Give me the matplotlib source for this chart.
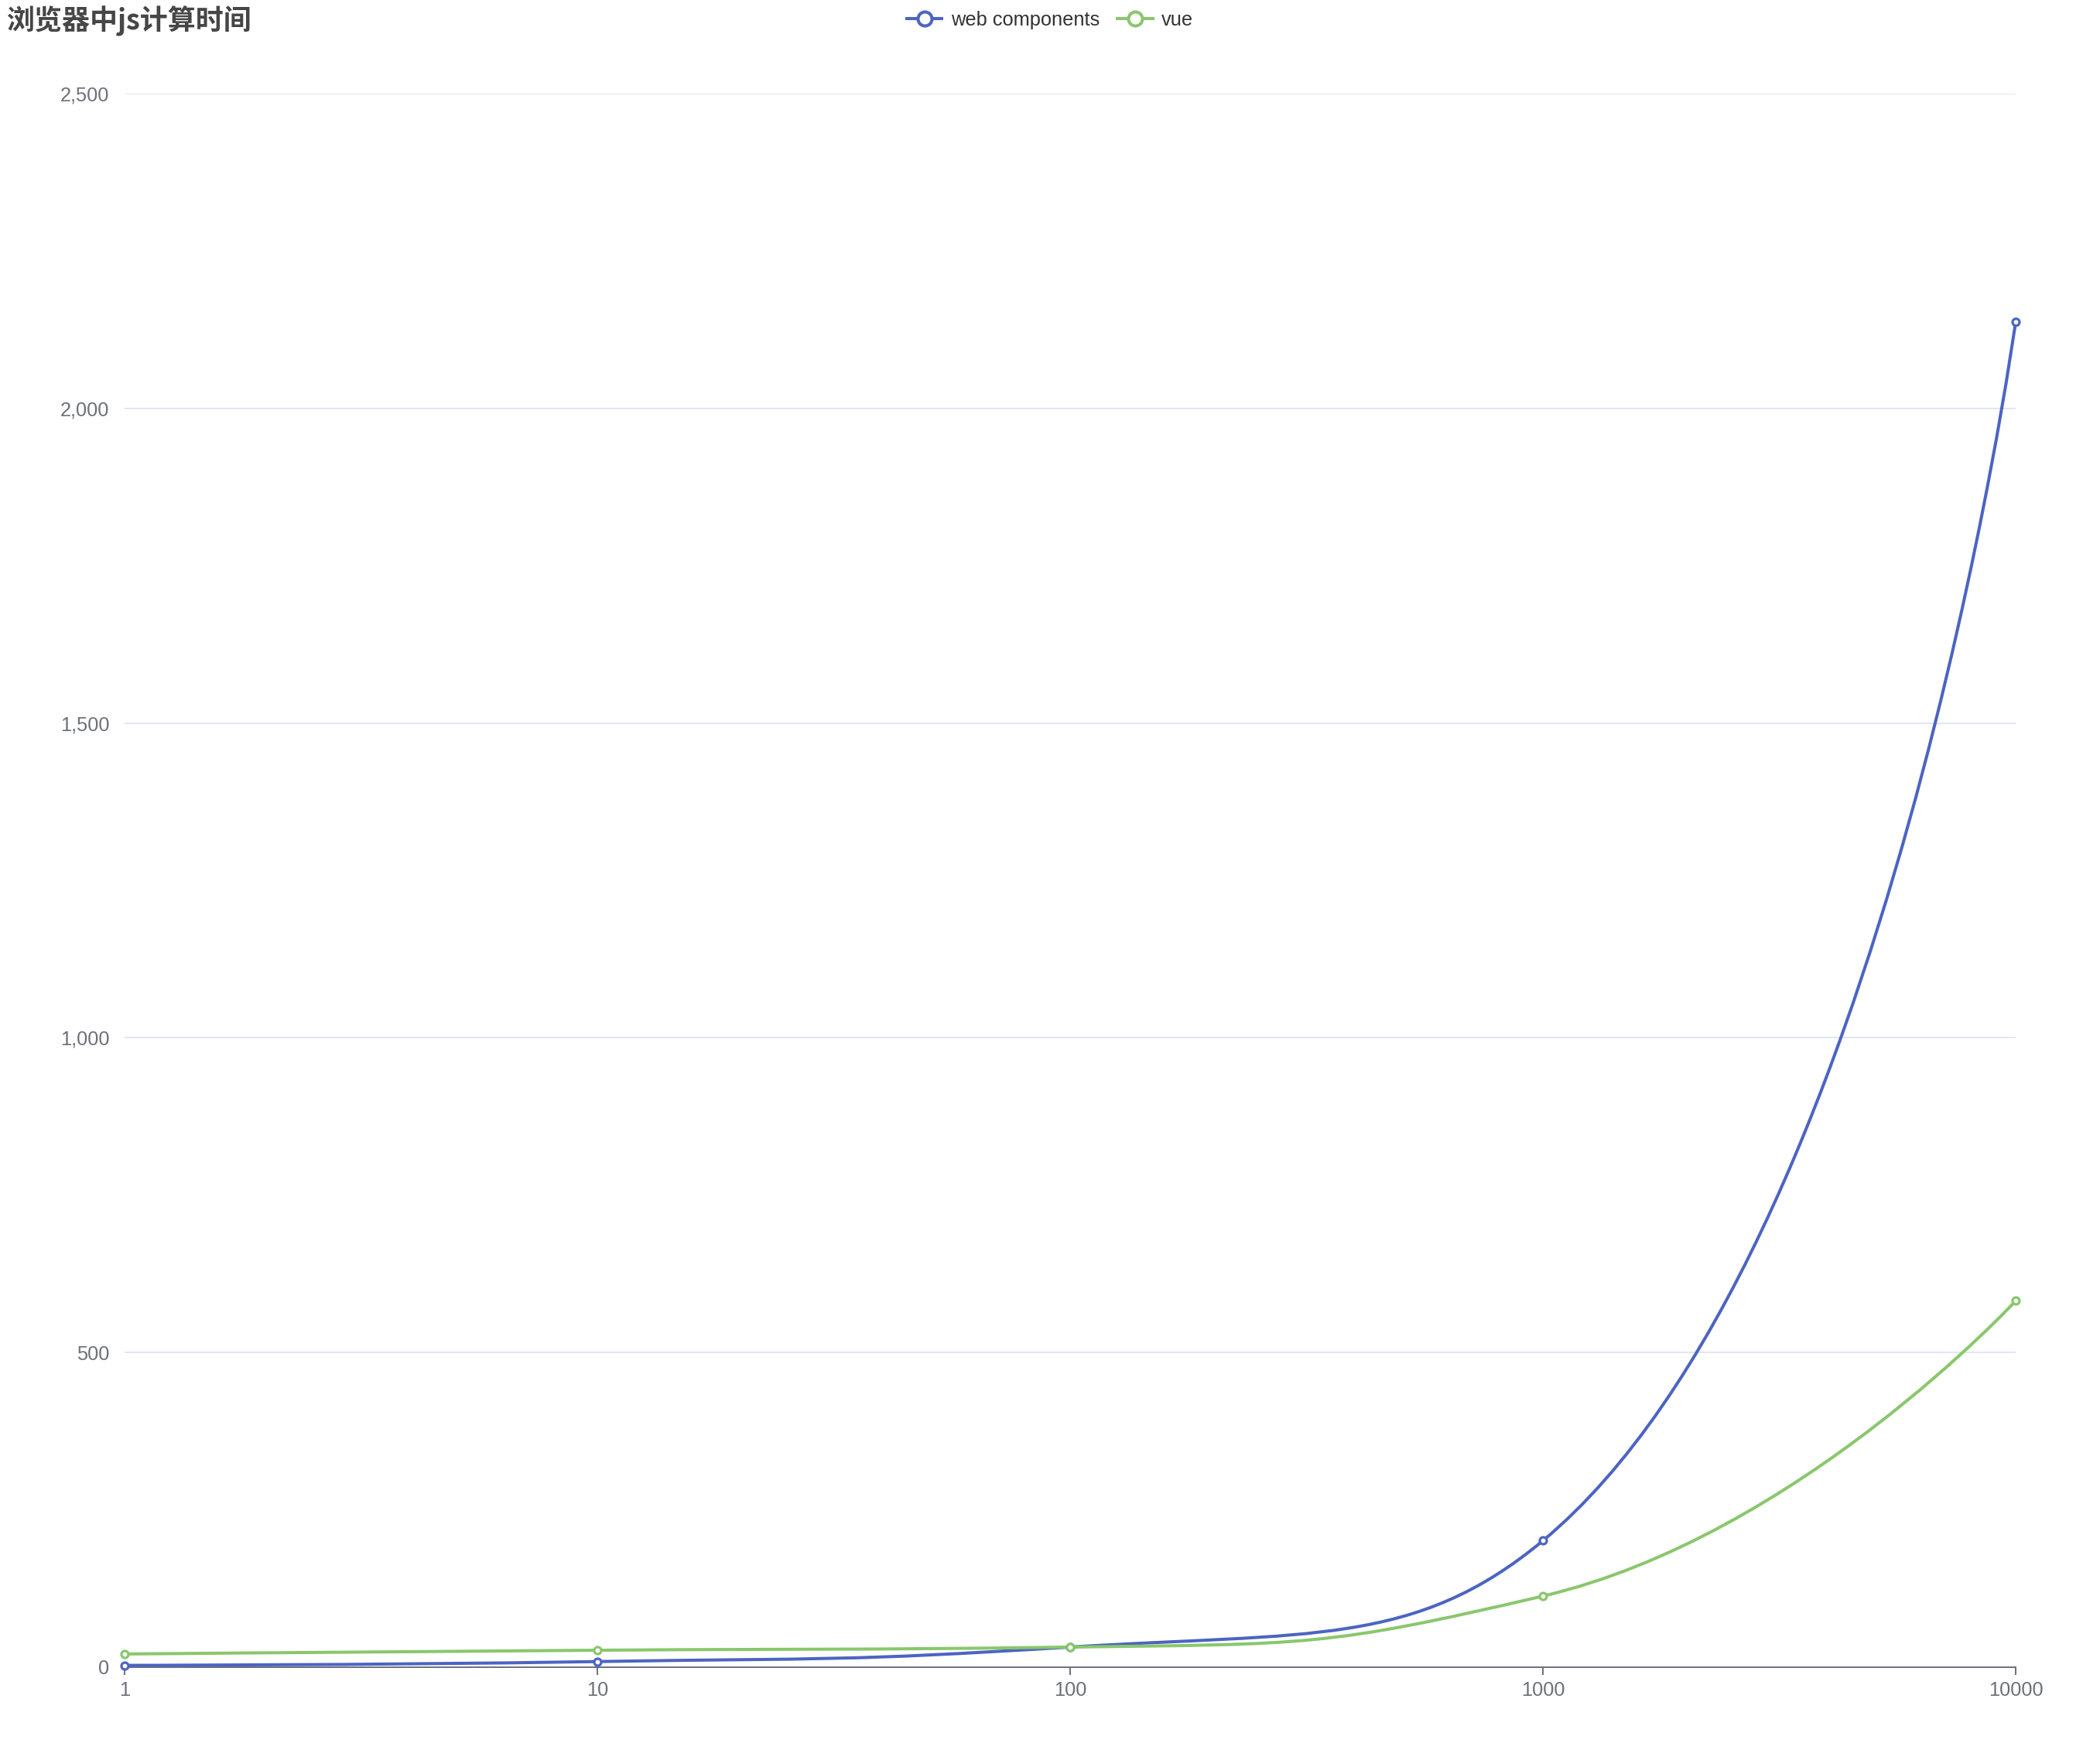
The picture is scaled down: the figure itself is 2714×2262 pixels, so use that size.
import matplotlib
matplotlib.use("Agg")
import matplotlib.pyplot as plt
import numpy as np
from matplotlib.path import Path
from matplotlib.patches import PathPatch
from matplotlib.lines import Line2D
from matplotlib.ticker import FuncFormatter

plt.rcParams['font.family'] = ['Liberation Sans', 'Noto Sans CJK SC', 'DejaVu Sans']

# 数据
categories = ['1', '10', '100', '1000', '10000']
web_components = [3, 9, 32, 201, 2138]
vue = [21, 27, 32, 113, 582]
series_names = ['web components', 'vue']
colors = ['#4c64c2', '#89c76c']
title = '浏览器中js计算时间'


def smooth_path(ax, xs, ys, smooth=0.5):
    """echarts 风格的平滑曲线, 在像素坐标里算控制点"""
    pts = ax.transData.transform(np.column_stack([xs, ys]))
    n = len(pts)
    cp_in = [None] * n   # 进入点 i 的控制点
    cp_out = [None] * n  # 离开点 i 的控制点
    cp_out[0] = pts[0].copy()
    cp_in[-1] = pts[-1].copy()
    for i in range(1, n - 1):
        p0, p, p1 = pts[i - 1], pts[i], pts[i + 1]
        v = p1 - p0
        l0 = np.hypot(*(p - p0))
        l1 = np.hypot(*(p1 - p))
        r = l1 / (l0 + l1)
        nxt = p + v * smooth * r
        nxt = np.minimum(nxt, np.maximum(p1, p))
        nxt = np.maximum(nxt, np.minimum(p1, p))
        v = nxt - p
        prv = p - v * l0 / l1
        prv = np.minimum(prv, np.maximum(p0, p))
        prv = np.maximum(prv, np.minimum(p0, p))
        v = p - prv
        nxt = p + v * l1 / l0
        cp_in[i] = prv
        cp_out[i] = nxt
    verts = [pts[0]]
    codes = [Path.MOVETO]
    for i in range(n - 1):
        verts += [cp_out[i], cp_in[i + 1], pts[i + 1]]
        codes += [Path.CURVE4] * 3
    verts = ax.transData.inverted().transform(np.array(verts))
    return Path(verts, codes)


W, H = 2714, 2262
fig = plt.figure(figsize=(W / 100, H / 100), dpi=100)
left, right, top, bottom = 161, 2605, 121, 2155
ax = fig.add_axes([left / W, 1 - bottom / H, (right - left) / W, (bottom - top) / H])

x = np.arange(len(categories))
ax.set_xlim(0, len(categories) - 1)
ax.set_ylim(0, 2500)
ax.set_yticks([0, 500, 1000, 1500, 2000, 2500])
ax.yaxis.set_major_formatter(FuncFormatter(lambda v, p: f'{int(v):,}'))
ax.set_xticks(x)
ax.set_xticklabels(categories)

ax.grid(axis='y', color='#e0e6f1', linewidth=1.4)
ax.set_axisbelow(True)
for s in ['top', 'right', 'left']:
    ax.spines[s].set_visible(False)
ax.spines['bottom'].set_color('#6e7079')
ax.spines['bottom'].set_linewidth(1.4)
ax.spines['bottom'].set_zorder(1)
ax.tick_params(axis='x', length=7.2, width=1.4, color='#6e7079', labelcolor='#6e7079',
               labelsize=18.3, pad=6)
ax.tick_params(axis='y', length=0, labelcolor='#6e7079', labelsize=18.3, pad=14)

handles = []
for vals, name, c in zip([web_components, vue], series_names, colors):
    path = smooth_path(ax, x, vals)
    ax.add_patch(PathPatch(path, fill=False, edgecolor=c, linewidth=2.9, zorder=3,
                           clip_on=False))
    ax.plot(x, vals, 'o', color=c, markerfacecolor='white', markersize=6.5,
            markeredgewidth=2.3, zorder=4, clip_on=False)
    handles.append(Line2D([], [], color=c, linewidth=2.9, marker='o', markersize=13,
                          markerfacecolor='white', markeredgewidth=2.9))

fig.legend(handles, series_names, loc='center', bbox_to_anchor=(0.5, 0.9884),
           ncol=2, frameon=False, fontsize=18.3, handlelength=1.8, handletextpad=0.45,
           columnspacing=0.9, borderpad=0, labelcolor='#333333')

fig.text(8 / W, 1 - 8 / H, title, ha='left', va='top', fontsize=25.9, fontweight='bold',
         color='#464646', family=['Noto Sans CJK SC', 'DejaVu Sans'])

fig.savefig('out.png', dpi=100, facecolor='white')
